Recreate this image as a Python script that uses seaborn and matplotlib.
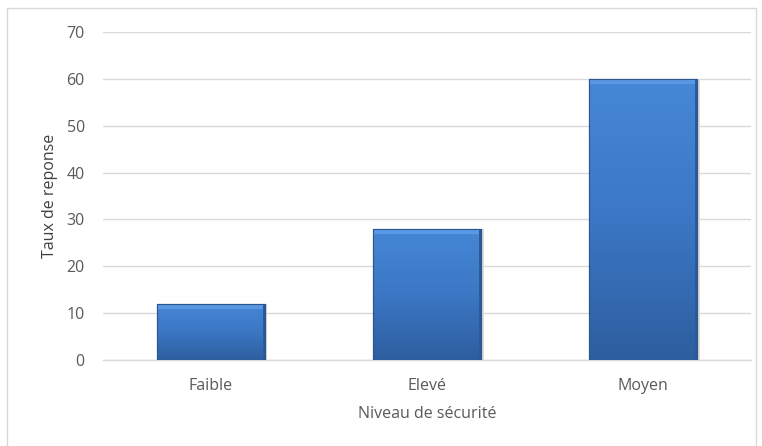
import numpy as np
import pandas as pd
import matplotlib
matplotlib.use("Agg")
import matplotlib.pyplot as plt
from matplotlib.colors import LinearSegmentedColormap
from matplotlib.patches import Rectangle
import seaborn as sns

sns.set_style("white")
plt.rcParams['font.family'] = ['Open Sans', 'DejaVu Sans']

categories = ['Faible', 'Elevé', 'Moyen']
values = [12, 28, 60]
yticks = [0, 10, 20, 30, 40, 50, 60, 70]

df = pd.DataFrame({'niveau': categories, 'taux': values})

fig = plt.figure(figsize=(7.62, 4.46), dpi=100)
ax = fig.add_axes([0.135, 0.193, 0.8505, 0.735])

sns.barplot(data=df, x='niveau', y='taux', color='#3f7fcf', width=0.5,
            edgecolor='#2a5590', linewidth=0.8, ax=ax, zorder=3)

# excel-ish vertical gradient on each bar
grad = LinearSegmentedColormap.from_list('g', ['#2d5e9f', '#3b77c4', '#4688d6'])
img = np.linspace(0, 1, 256).reshape(-1, 1)
for p in ax.patches:
    x0, y0 = p.get_x(), p.get_y()
    w, h = p.get_width(), p.get_height()
    # light shadow on the right
    ax.add_patch(Rectangle((x0 + w, y0), 0.012, h, color='#dcdcdc', zorder=2, lw=0))
    im = ax.imshow(img, extent=[x0, x0 + w, y0, y0 + h], origin='lower',
                   cmap=grad, aspect='auto', zorder=3.5)
    im.set_clip_path(p)
    # bevel: highlight at top, darker sides
    ax.add_patch(Rectangle((x0, y0 + h - 1.1), w, 1.1, color='#5a98e4', zorder=3.6, lw=0))
    ax.add_patch(Rectangle((x0, y0), 0.007, h, color='#3368ad', zorder=3.6, lw=0))
    ax.add_patch(Rectangle((x0 + w - 0.007, y0), 0.007, h, color='#2c5b9a', zorder=3.6, lw=0))
    ax.add_patch(Rectangle((x0, y0), w, h, fill=False, edgecolor='#2a5590', lw=0.8, zorder=3.7))

ax.set_xlim(-0.5, 2.5)
ax.set_ylim(0, 70)
ax.set_yticks(yticks)
ax.yaxis.grid(True, color='#d9d9d9', linewidth=1, zorder=0)
ax.set_axisbelow(True)

for s in ['top', 'right', 'left']:
    ax.spines[s].set_visible(False)
ax.spines['bottom'].set_color('#d9d9d9')
ax.spines['bottom'].set_linewidth(1)

ax.set_xticks([-0.5, 0.5, 1.5, 2.5], minor=True)
ax.tick_params(axis='x', which='major', length=0, pad=13, labelsize=11.5, labelcolor='#595959')
ax.tick_params(axis='x', which='minor', length=4, color='#d9d9d9', width=1)
ax.tick_params(axis='y', length=0, pad=13, labelsize=11.5, labelcolor='#595959')

ax.set_xlabel('Niveau de sécurité', fontsize=11.5, color='#595959', labelpad=9)
ax.set_ylabel('Taux de reponse', fontsize=11.5, color='#404040', labelpad=6)

# chart border
fig.patches.append(Rectangle((7 / 762, -0.05), 749 / 762, 1 - 8 / 446 + 0.05,
                             transform=fig.transFigure, fill=False,
                             edgecolor='#d9d9d9', lw=1))

fig.savefig('out.png', dpi=100)
